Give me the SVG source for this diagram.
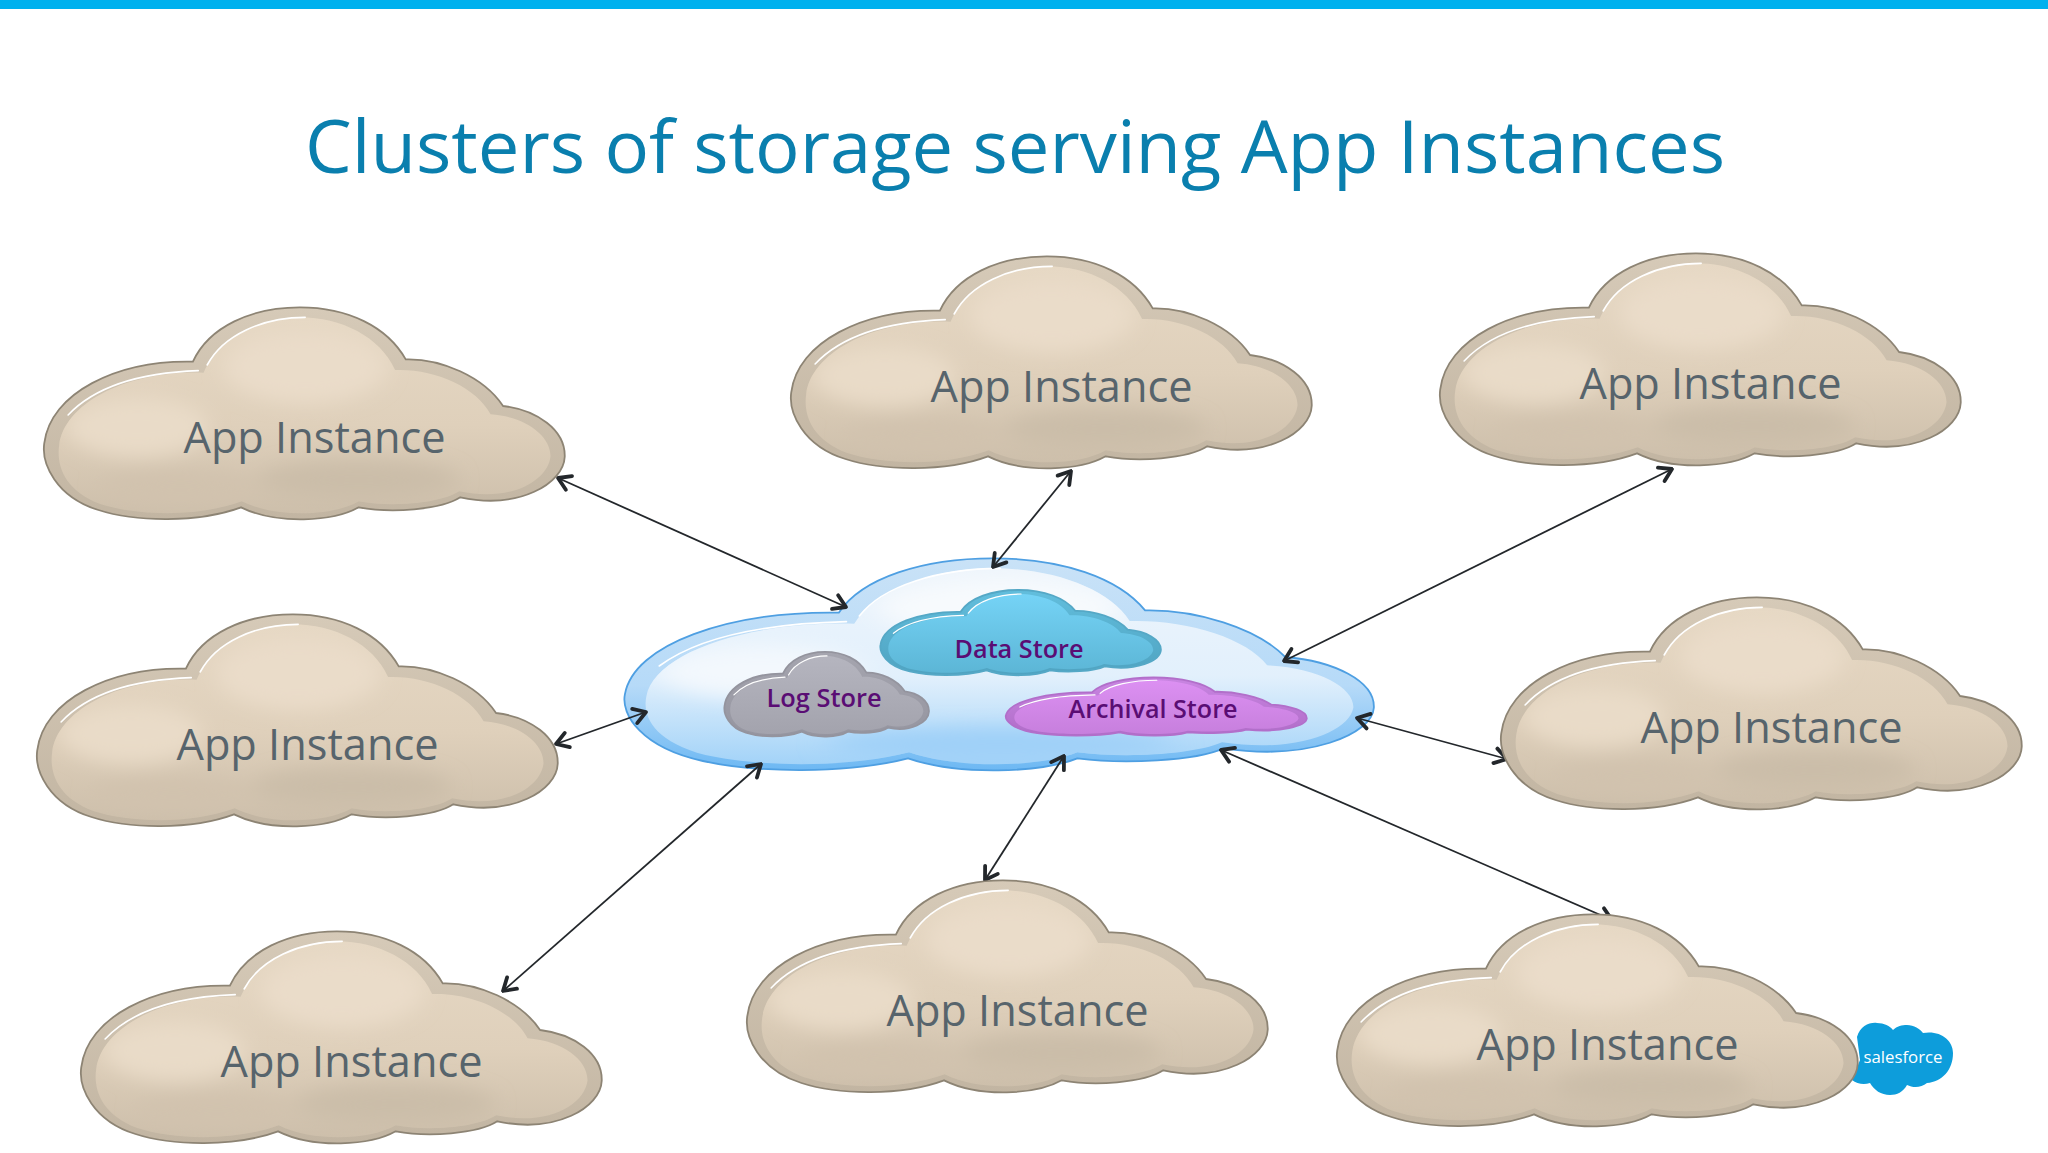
<svg xmlns="http://www.w3.org/2000/svg" width="2048" height="1153" viewBox="0 0 2048 1153">
<style>
text{font-family:"Open Sans","Noto Sans","Liberation Sans",sans-serif}
.title{font-size:74px;fill:#0a7fae}
.app{font-size:44px;fill:#57646c;text-anchor:middle}
.store{font-size:26px;font-weight:600;fill:#5a0d74;text-anchor:middle}
.brand{font-size:17px;fill:#fff;text-anchor:middle}
defs path{vector-effect:non-scaling-stroke}
.rim{stroke-width:1.8}
.hl{fill:none;stroke:#fff;stroke-linecap:round}
.cn{stroke:#23272b;stroke-width:1.8;fill:none;marker-start:url(#ah);marker-end:url(#ah)}
</style>
<defs>
<path id="o" d="M485 245C530 140 650 82 785 82C920 82 1030 140 1082 238C1180 235 1300 290 1355 378C1450 390 1530 450 1528 530C1525 610 1400 690 1235 652C1180 690 1040 700 950 682C880 725 720 735 620 682C500 730 320 725 220 690C100 650 60 550 68 490C85 340 270 240 485 245Z"/>
<path id="i" d="M515 278C560 170 680 112 785 112C900 112 1010 170 1052 270C1160 265 1280 320 1320 403C1420 410 1490 470 1488 530C1480 600 1380 668 1232 634C1175 672 1040 682 950 664C880 708 720 716 622 664C500 712 330 708 225 672C120 630 102 550 110 495C125 370 300 270 515 278Z"/>
<path id="h" d="M135 405C210 320 340 278 500 272M525 255C570 165 680 112 800 112"/>
<clipPath id="ci"><use href="#i"/></clipPath>
<filter id="b" x="-30%" y="-30%" width="160%" height="160%"><feGaussianBlur stdDeviation="28"/></filter>
<linearGradient id="tr" x1="0" y1="0" x2="0" y2="1"><stop offset="0" stop-color="#d6cab8"/><stop offset="1" stop-color="#c2b5a2"/></linearGradient>
<linearGradient id="tf" x1="0" y1="0" x2="0" y2="1"><stop offset="0" stop-color="#e6d8c4"/><stop offset=".55" stop-color="#dfd0bb"/><stop offset="1" stop-color="#cdbfab"/></linearGradient>
<linearGradient id="cr" x1="0" y1="0" x2="0" y2="1"><stop offset="0" stop-color="#c9e2f7"/><stop offset=".6" stop-color="#b6daf8"/><stop offset="1" stop-color="#6db8f3"/></linearGradient>
<linearGradient id="cf" x1="0" y1="0" x2="0" y2="1"><stop offset="0" stop-color="#eef5fc"/><stop offset=".55" stop-color="#e2f0fc"/><stop offset="1" stop-color="#a3d3f8"/></linearGradient>
<linearGradient id="dr" x1="0" y1="0" x2="0" y2="1"><stop offset="0" stop-color="#62bedd"/><stop offset="1" stop-color="#4fa3c1"/></linearGradient>
<linearGradient id="df" x1="0" y1="0" x2="0" y2="1"><stop offset="0" stop-color="#75d3f6"/><stop offset="1" stop-color="#5cb6d6"/></linearGradient>
<linearGradient id="lr" x1="0" y1="0" x2="0" y2="1"><stop offset="0" stop-color="#a5a5af"/><stop offset="1" stop-color="#9595a0"/></linearGradient>
<linearGradient id="lf" x1="0" y1="0" x2="0" y2="1"><stop offset="0" stop-color="#b5b5bf"/><stop offset="1" stop-color="#a3a3ad"/></linearGradient>
<linearGradient id="ar" x1="0" y1="0" x2="0" y2="1"><stop offset="0" stop-color="#c985e2"/><stop offset="1" stop-color="#b06dc8"/></linearGradient>
<linearGradient id="af" x1="0" y1="0" x2="0" y2="1"><stop offset="0" stop-color="#dc90f2"/><stop offset="1" stop-color="#c77fdd"/></linearGradient>
<marker id="ah" viewBox="0 0 20 20" refX="18" refY="10" markerWidth="20" markerHeight="20" markerUnits="userSpaceOnUse" orient="auto-start-reverse"><path d="M6 2.5L18 10L6 17.5" fill="none" stroke="#23272b" stroke-width="3.8" stroke-linecap="round" stroke-linejoin="round"/></marker>
<g id="tan" transform="translate(20 280) scale(.3565 .33333)">
<use href="#o" class="rim" fill="url(#tr)" stroke="#8d8474"/>
<use href="#i" fill="url(#tf)"/>
<g clip-path="url(#ci)" filter="url(#b)"><ellipse cx="800" cy="260" rx="230" ry="110" fill="#eadcc9"/><ellipse cx="330" cy="440" rx="200" ry="90" fill="#e9dbc8"/><ellipse cx="950" cy="600" rx="280" ry="60" fill="#cbbda9"/><ellipse cx="450" cy="620" rx="230" ry="50" fill="#d1c2ae"/></g>
<use href="#h" class="hl" stroke-width="1.6"/>
</g>
</defs>
<rect width="2048" height="1153" fill="#fff"/>
<rect width="2048" height="9" fill="#00b1ee"/>
<text class="title" x="305" y="173" textLength="1420" lengthAdjust="spacingAndGlyphs">Clusters of storage serving App Instances</text>

<g id="storage-cloud">
<g transform="translate(590 531) scale(.513 .33333)">
<use href="#o" class="rim" fill="url(#cr)" stroke="#4e9fe2"/>
<use href="#i" fill="url(#cf)"/>
<g clip-path="url(#ci)" filter="url(#b)"><ellipse cx="800" cy="230" rx="240" ry="90" fill="#f7fafd"/><ellipse cx="330" cy="420" rx="200" ry="80" fill="#f3f8fd"/><ellipse cx="800" cy="640" rx="340" ry="50" fill="#9fd0f8"/></g>
<use href="#h" class="hl" stroke-width="1.6"/>
</g>
</g>
<g id="data-store">
<g transform="translate(867.5 579) scale(.192 .134)"><use href="#o" class="rim" fill="url(#dr)" stroke="#55a8c6"/><use href="#i" fill="url(#df)"/><use href="#h" class="hl" stroke-width="1.2"/></g>
<text class="store" x="1019" y="658" textLength="129" lengthAdjust="spacingAndGlyphs">Data Store</text>
</g>
<g id="log-store">
<g transform="translate(715 641) scale(.14 .133)"><use href="#o" class="rim" fill="url(#lr)" stroke="#94949e"/><use href="#i" fill="url(#lf)"/><use href="#h" class="hl" stroke-width="1.2"/></g>
<text class="store" x="824" y="707" textLength="115" lengthAdjust="spacingAndGlyphs">Log Store</text>
</g>
<g id="archival-store">
<g transform="translate(992 670) scale(.206 .0915)"><use href="#o" class="rim" fill="url(#ar)" stroke="#b26fca"/><use href="#i" fill="url(#af)"/><use href="#h" class="hl" stroke-width="1.2"/></g>
<text class="store" x="1153" y="718" textLength="169" lengthAdjust="spacingAndGlyphs">Archival Store</text>
</g>

<g id="connectors">
<line class="cn" x1="558" y1="478" x2="846" y2="607"/>
<line class="cn" x1="1071" y1="471" x2="993" y2="567"/>
<line class="cn" x1="1672" y1="469" x2="1284" y2="661"/>
<line class="cn" x1="556" y1="744" x2="646" y2="712"/>
<line class="cn" x1="1357" y1="718" x2="1507" y2="759"/>
<line class="cn" x1="761" y1="764" x2="503" y2="991"/>
<line class="cn" x1="1064" y1="756" x2="985" y2="880"/>
<line class="cn" x1="1221" y1="750" x2="1612" y2="920"/>
</g>

<g id="salesforce-logo">
<path fill="#0d9ddb" d="M1857 1037C1860 1026 1870 1022 1877 1023C1884 1023 1890 1026 1893 1030C1897 1026 1902 1025 1907 1025C1914 1025 1920 1029 1923 1033C1940 1030 1953 1040 1953 1053C1953 1070 1942 1082 1927 1083C1921 1088 1913 1088 1907 1085C1903 1092 1897 1095 1890 1095C1881 1095 1874 1090 1870 1083C1864 1085 1857 1084 1852 1080L1860 1060Z"/>
<text class="brand" x="1903" y="1063" textLength="79" lengthAdjust="spacingAndGlyphs">salesforce</text>
</g>

<g id="app-1"><use href="#tan"/><text class="app" x="314.5" y="453" textLength="262" lengthAdjust="spacingAndGlyphs">App Instance</text></g>
<g id="app-2" transform="translate(747 -51)"><use href="#tan"/><text class="app" x="314.5" y="453" textLength="262" lengthAdjust="spacingAndGlyphs">App Instance</text></g>
<g id="app-3" transform="translate(1396 -54)"><use href="#tan"/><text class="app" x="314.5" y="453" textLength="262" lengthAdjust="spacingAndGlyphs">App Instance</text></g>
<g id="app-4" transform="translate(-7 307)"><use href="#tan"/><text class="app" x="314.5" y="453" textLength="262" lengthAdjust="spacingAndGlyphs">App Instance</text></g>
<g id="app-5" transform="translate(1457 290)"><use href="#tan"/><text class="app" x="314.5" y="453" textLength="262" lengthAdjust="spacingAndGlyphs">App Instance</text></g>
<g id="app-6" transform="translate(37 624)"><use href="#tan"/><text class="app" x="314.5" y="453" textLength="262" lengthAdjust="spacingAndGlyphs">App Instance</text></g>
<g id="app-7" transform="translate(703 573)"><use href="#tan"/><text class="app" x="314.5" y="453" textLength="262" lengthAdjust="spacingAndGlyphs">App Instance</text></g>
<g id="app-8" transform="translate(1293 607)"><use href="#tan"/><text class="app" x="314.5" y="453" textLength="262" lengthAdjust="spacingAndGlyphs">App Instance</text></g>
</svg>
